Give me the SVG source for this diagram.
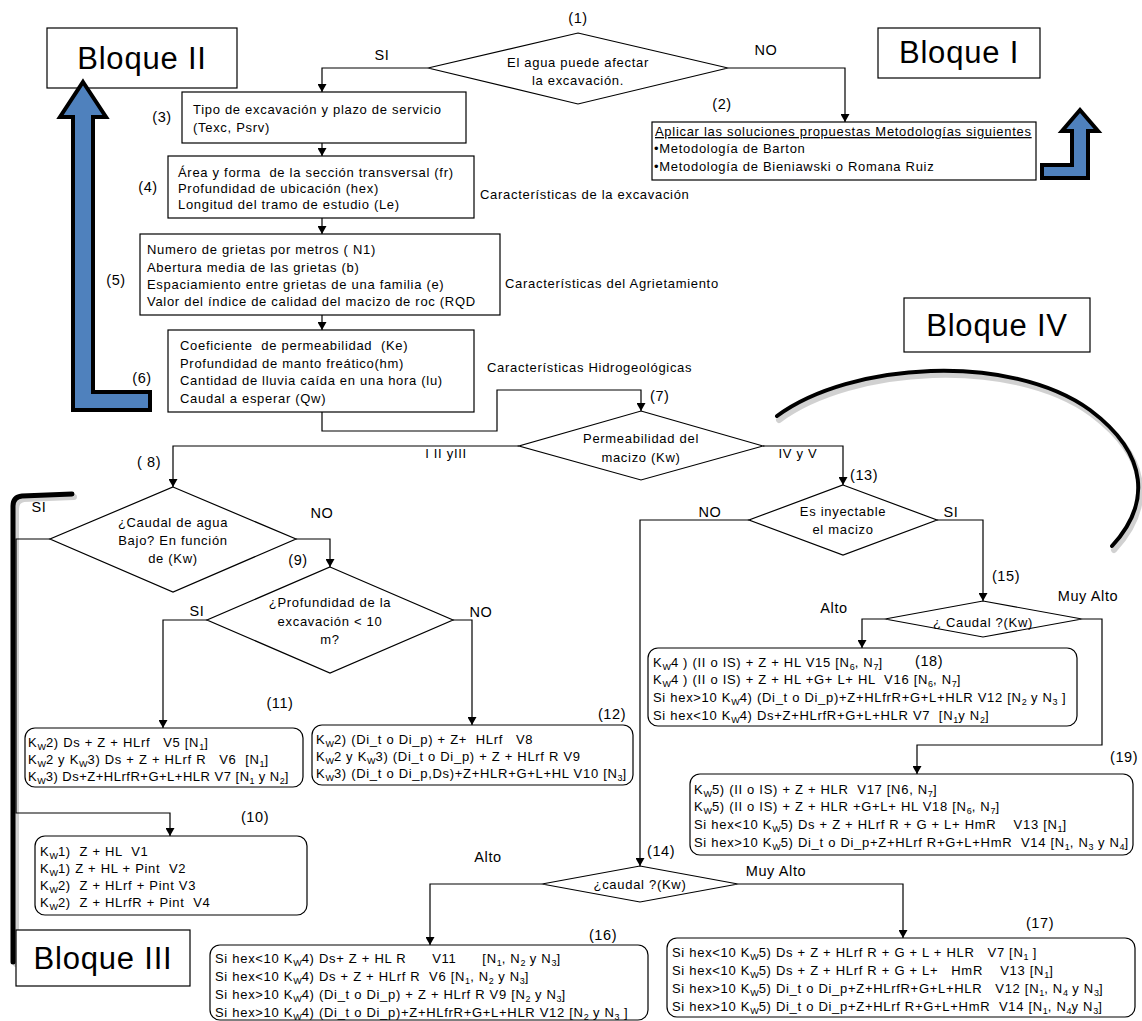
<svg xmlns="http://www.w3.org/2000/svg" width="1142" height="1021" viewBox="0 0 1142 1021">
<defs>
<marker id="ah" markerUnits="userSpaceOnUse" markerWidth="8" markerHeight="9" refX="8" refY="4.5" orient="auto">
<path d="M0,0 L8,4.5 L0,9 z" fill="#000"/>
</marker>
<style>
.t{font-family:"Liberation Sans",Arial,sans-serif;font-size:13px;letter-spacing:0.7px;fill:#000;white-space:pre}
.c{text-anchor:middle}
.lb{font-size:14.5px;letter-spacing:0.6px}
.big{font-size:31px;letter-spacing:0.8px}
.s{font-size:9px;letter-spacing:0}
.u{text-decoration:underline}
.box{fill:#fff;stroke:#000;stroke-width:1.2}
.dm{fill:#fff;stroke:#000;stroke-width:1.2}
.ln{fill:none;stroke:#000;stroke-width:1.2;marker-end:url(#ah)}
.blue{fill:#4f81bd;stroke:#000;stroke-width:4;stroke-linejoin:miter}
.thick{fill:none;stroke:#000;stroke-width:5;stroke-linecap:round}
.shadow{fill:none;stroke:#000;stroke-opacity:0.18;stroke-width:6;stroke-linecap:round}
</style>
</defs>
<rect width="1142" height="1021" fill="#fff"/>

<g id="bloqueII">
<rect class="box" x="47" y="28" width="190" height="60"/>
<text class="t big c" x="142" y="69">Bloque II</text>
</g>
<g id="bloqueI">
<rect class="box" x="878" y="28" width="162" height="50"/>
<text class="t big c" x="959" y="63">Bloque I</text>
</g>
<g id="bloqueIV">
<rect class="box" x="904" y="298" width="186" height="54"/>
<text class="t big c" x="997" y="336">Bloque IV</text>
</g>
<g id="arrowII">
<polygon class="blue" points="83,82 106,117 93,117 93,392 150,392 150,410 73,410 73,117 60,117"/>
</g>
<g id="arrowI">
<polygon class="blue" points="1080,110 1098,131 1088,131 1088,178 1042,178 1042,165 1072,165 1072,131 1062,131"/>
</g>
<g id="bracketIII">
<path class="shadow" d="M74,497 L24,499 Q16,500 16,509 L16,964"/>
<path class="thick" d="M72,494 L22,496 Q13,497 13,506 L13,962"/>
</g>
<g id="arcIV">
<path class="shadow" d="M779,420 C852,366 1012,356 1092,414 C1152,459 1152,509 1114,550"/>
<path class="thick" style="stroke-width:4" d="M777,416 C850,362 1010,352 1090,410 C1150,455 1150,505 1112,546"/>
</g>

<g id="connectors">
<polyline class="ln" points="428,68 322,68 322,92"/>
<polyline class="ln" points="728,68 845,68 845,122"/>
<polyline class="ln" points="322,143 322,156"/>
<polyline class="ln" points="322,218 322,234"/>
<polyline class="ln" points="322,315 322,330"/>
<polyline class="ln" points="322,412 322,431 497,431 497,390 641,390 641,411"/>
<polyline class="ln" points="519,446 173,446 173,487"/>
<polyline class="ln" points="763,446 843,446 843,485"/>
<polyline class="ln" points="296,539 330,539 330,567"/>
<polyline class="ln" points="50,539 16,539 16,813 170,813 170,836"/>
<polyline class="ln" points="207,620 163,620 163,728"/>
<polyline class="ln" points="453,620 472,620 472,725"/>
<polyline class="ln" points="937,520 983,520 983,601"/>
<polyline class="ln" points="749,520 640,520 640,866"/>
<polyline class="ln" points="885,619 862,619 862,648"/>
<polyline class="ln" points="1082,619 1102,619 1102,745 917,745 917,774"/>
<polyline class="ln" points="542,884 430,884 430,945"/>
<polyline class="ln" points="738,884 903,884 903,938"/>
</g>

<g id="edge-labels">
<text class="t lb c" x="382" y="60">SI</text>
<text class="t lb c" x="766" y="55">NO</text>
<text class="t lb c" x="322" y="518">NO</text>
<text class="t lb c" x="39" y="512">SI</text>
<text class="t lb c" x="197" y="616">SI</text>
<text class="t lb c" x="481" y="617">NO</text>
<text class="t c" x="446" y="458">I II yIII</text>
<text class="t c" x="798" y="458">IV y V</text>
<text class="t lb c" x="710" y="517">NO</text>
<text class="t lb c" x="951" y="517">SI</text>
<text class="t lb c" x="834" y="613">Alto</text>
<text class="t lb c" x="1088" y="601">Muy Alto</text>
<text class="t lb c" x="488" y="862">Alto</text>
<text class="t lb c" x="776" y="876">Muy Alto</text>
</g>

<g id="n1">
<text class="t lb c" x="578" y="23">(1)</text>
<polygon class="dm" points="578,33 728,68 578,104 428,68"/>
<text class="t c" x="578" y="67">El agua puede afectar</text>
<text class="t c" x="578" y="85">la excavación.</text>
</g>

<g id="n2">
<text class="t lb c" x="722" y="109">(2)</text>
<rect class="box" x="652" y="122" width="384" height="58"/>
<text class="t u" x="655" y="136">Aplicar las soluciones propuestas Metodologías siguientes</text>
<text class="t" x="654" y="153">•Metodología de Barton</text>
<text class="t" x="654" y="171">•Metodología de Bieniawski o Romana Ruiz</text>
</g>

<g id="n3">
<text class="t lb c" x="162" y="122">(3)</text>
<rect class="box" x="182" y="92" width="284" height="51"/>
<text class="t" x="193" y="114">Tipo de excavación y plazo de servicio</text>
<text class="t" x="193" y="132">(Texc, Psrv)</text>
</g>

<g id="n4">
<text class="t lb c" x="148" y="192">(4)</text>
<rect class="box" x="168" y="156" width="306" height="62"/>
<text class="t" x="178" y="177">Área y forma  de la sección transversal (fr)</text>
<text class="t" x="178" y="193">Profundidad de ubicación (hex)</text>
<text class="t" x="178" y="209">Longitud del tramo de estudio (Le)</text>
<text class="t" x="480" y="199">Características de la excavación</text>
</g>

<g id="n5">
<text class="t lb c" x="116" y="285">(5)</text>
<rect class="box" x="140" y="234" width="360" height="81"/>
<text class="t" x="147" y="254">Numero de grietas por metros ( N1)</text>
<text class="t" x="147" y="272">Abertura media de las grietas (b)</text>
<text class="t" x="147" y="289">Espaciamiento entre grietas de una familia (e)</text>
<text class="t" x="147" y="306">Valor del índice de calidad del macizo de roc (RQD</text>
<text class="t" x="505" y="288">Características del Agrietamiento</text>
</g>

<g id="n6">
<text class="t lb c" x="142" y="383">(6)</text>
<rect class="box" x="168" y="330" width="306" height="82"/>
<text class="t" x="180" y="350">Coeficiente  de permeabilidad  (Ke)</text>
<text class="t" x="180" y="368">Profundidad de manto freático(hm)</text>
<text class="t" x="180" y="385">Cantidad de lluvia caída en una hora (lu)</text>
<text class="t" x="180" y="403">Caudal a esperar (Qw)</text>
<text class="t" x="487" y="372">Características Hidrogeológicas</text>
</g>

<g id="n7">
<text class="t lb" x="650" y="401">(7)</text>
<polygon class="dm" points="641,411 763,446 641,480 519,446"/>
<text class="t c" x="641" y="443">Permeabilidad del</text>
<text class="t c" x="641" y="462">macizo (Kw)</text>
</g>

<g id="n8">
<text class="t lb c" x="149" y="467">( 8)</text>
<polygon class="dm" points="173,487 296,539 173,592 50,539"/>
<text class="t c" x="173" y="527">¿Caudal de agua</text>
<text class="t c" x="173" y="545">Bajo? En función</text>
<text class="t c" x="173" y="563">de (Kw)</text>
</g>

<g id="n9">
<text class="t lb c" x="298" y="565">(9)</text>
<polygon class="dm" points="330,567 453,620 330,673 207,620"/>
<text class="t c" x="330" y="607">¿Profundidad de la</text>
<text class="t c" x="330" y="626">excavación &lt; 10</text>
<text class="t c" x="330" y="644">m?</text>
</g>

<g id="n11">
<text class="t lb c" x="280" y="708">(11)</text>
<rect class="box" x="25" y="728" width="278" height="59" rx="10"/>
<text class="t" x="28" y="747">K<tspan class="s" dy="3">W</tspan><tspan dy="-3">2) Ds + Z + HLrf   V5 [N</tspan><tspan class="s" dy="3">1</tspan><tspan dy="-3">]</tspan></text>
<text class="t" x="28" y="764">K<tspan class="s" dy="3">W</tspan><tspan dy="-3">2 y K</tspan><tspan class="s" dy="3">W</tspan><tspan dy="-3">3) Ds + Z + HLrf R   V6  [N</tspan><tspan class="s" dy="3">1</tspan><tspan dy="-3">]</tspan></text>
<text class="t" x="28" y="781" style="letter-spacing:0.5px">K<tspan class="s" dy="3">W</tspan><tspan dy="-3">3) Ds+Z+HLrfR+G+L+HLR V7 [N</tspan><tspan class="s" dy="3">1</tspan><tspan dy="-3"> y N</tspan><tspan class="s" dy="3">2</tspan><tspan dy="-3">]</tspan></text>
</g>

<g id="n12">
<text class="t lb c" x="612" y="719">(12)</text>
<rect class="box" x="312" y="725" width="321" height="60" rx="10"/>
<text class="t" x="316" y="744">K<tspan class="s" dy="3">W</tspan><tspan dy="-3">2) (Di_t o Di_p) + Z+  HLrf   V8</tspan></text>
<text class="t" x="316" y="761">K<tspan class="s" dy="3">W</tspan><tspan dy="-3">2 y K</tspan><tspan class="s" dy="3">W</tspan><tspan dy="-3">3) (Di_t o Di_p) + Z + HLrf R V9</tspan></text>
<text class="t" x="316" y="778">K<tspan class="s" dy="3">W</tspan><tspan dy="-3">3) (Di_t o Di_p,Ds)+Z+HLR+G+L+HL V10 [N</tspan><tspan class="s" dy="3">3</tspan><tspan dy="-3">]</tspan></text>
</g>

<g id="n10">
<text class="t lb c" x="255" y="822">(10)</text>
<rect class="box" x="35" y="836" width="272" height="79" rx="10"/>
<text class="t" x="40" y="856">K<tspan class="s" dy="3">W</tspan><tspan dy="-3">1)  Z + HL  V1</tspan></text>
<text class="t" x="40" y="873">K<tspan class="s" dy="3">W</tspan><tspan dy="-3">1) Z + HL + Pint  V2</tspan></text>
<text class="t" x="40" y="890">K<tspan class="s" dy="3">W</tspan><tspan dy="-3">2)  Z + HLrf + Pint V3</tspan></text>
<text class="t" x="40" y="907">K<tspan class="s" dy="3">W</tspan><tspan dy="-3">2)  Z + HLrfR + Pint  V4</tspan></text>
</g>

<g id="bloqueIII">
<rect class="box" x="16" y="930" width="174" height="56"/>
<text class="t big c" x="103" y="969">Bloque III</text>
</g>

<g id="n13">
<text class="t lb" x="850" y="480">(13)</text>
<polygon class="dm" points="843,485 937,520 843,555 749,520"/>
<text class="t c" x="843" y="516">Es inyectable</text>
<text class="t c" x="843" y="534">el macizo</text>
</g>

<g id="n15">
<text class="t lb c" x="1006" y="581">(15)</text>
<polygon class="dm" points="983,601 1082,619 983,637 885,619"/>
<text class="t c" x="983" y="627">¿ Caudal ?(Kw)</text>
</g>

<g id="n18">
<rect class="box" x="648" y="648" width="429" height="78" rx="10"/>
<text class="t lb" x="915" y="666">(18)</text>
<text class="t" x="653" y="667">K<tspan class="s" dy="3">W</tspan><tspan dy="-3">4 ) (II o IS) + Z + HL V15 [N</tspan><tspan class="s" dy="3">6</tspan><tspan dy="-3">, N</tspan><tspan class="s" dy="3">7</tspan><tspan dy="-3">]</tspan></text>
<text class="t" x="653" y="684">K<tspan class="s" dy="3">W</tspan><tspan dy="-3">4 ) (II o IS) + Z + HL +G+ L+ HL  V16 [N</tspan><tspan class="s" dy="3">6</tspan><tspan dy="-3">, N</tspan><tspan class="s" dy="3">7</tspan><tspan dy="-3">]</tspan></text>
<text class="t" x="653" y="702">Si hex&gt;10 K<tspan class="s" dy="3">W</tspan><tspan dy="-3">4) (Di_t o Di_p)+Z+HLfrR+G+L+HLR V12 [N</tspan><tspan class="s" dy="3">2</tspan><tspan dy="-3"> y N</tspan><tspan class="s" dy="3">3</tspan><tspan dy="-3"> ]</tspan></text>
<text class="t" x="653" y="720">Si hex&lt;10 K<tspan class="s" dy="3">W</tspan><tspan dy="-3">4) Ds+Z+HLrfR+G+L+HLR V7  [N</tspan><tspan class="s" dy="3">1</tspan><tspan dy="-3">y N</tspan><tspan class="s" dy="3">2</tspan><tspan dy="-3">]</tspan></text>
</g>

<g id="n19">
<text class="t lb" x="1110" y="762">(19)</text>
<rect class="box" x="690" y="774" width="443" height="81" rx="10"/>
<text class="t" x="694" y="794">K<tspan class="s" dy="3">W</tspan><tspan dy="-3">5) (II o IS) + Z + HLR  V17 [N6, N</tspan><tspan class="s" dy="3">7</tspan><tspan dy="-3">]</tspan></text>
<text class="t" x="694" y="811">K<tspan class="s" dy="3">W</tspan><tspan dy="-3">5) (II o IS) + Z + HLR +G+L+ HL V18 [N</tspan><tspan class="s" dy="3">6</tspan><tspan dy="-3">, N</tspan><tspan class="s" dy="3">7</tspan><tspan dy="-3">]</tspan></text>
<text class="t" x="694" y="829">Si hex&lt;10 K<tspan class="s" dy="3">W</tspan><tspan dy="-3">5) Ds + Z + HLrf R + G + L+ HmR    V13 [N</tspan><tspan class="s" dy="3">1</tspan><tspan dy="-3">]</tspan></text>
<text class="t" x="694" y="847">Si hex&gt;10 K<tspan class="s" dy="3">W</tspan><tspan dy="-3">5) Di_t o Di_p+Z+HLrf R+G+L+HmR  V14 [N</tspan><tspan class="s" dy="3">1</tspan><tspan dy="-3">, N</tspan><tspan class="s" dy="3">3</tspan><tspan dy="-3"> y N</tspan><tspan class="s" dy="3">4</tspan><tspan dy="-3">]</tspan></text>
</g>

<g id="n14">
<text class="t lb" x="647" y="856">(14)</text>
<polygon class="dm" points="640,866 738,884 640,902 542,884"/>
<text class="t c" x="640" y="889">¿caudal ?(Kw)</text>
</g>

<g id="n16">
<text class="t lb c" x="603" y="940">(16)</text>
<rect class="box" x="210" y="945" width="438" height="75" rx="10"/>
<text class="t" x="215" y="963">Si hex&lt;10 K<tspan class="s" dy="3">W</tspan><tspan dy="-3">4) Ds+ Z + HL R      V11      [N</tspan><tspan class="s" dy="3">1</tspan><tspan dy="-3">, N</tspan><tspan class="s" dy="3">2</tspan><tspan dy="-3"> y N</tspan><tspan class="s" dy="3">3</tspan><tspan dy="-3">]</tspan></text>
<text class="t" x="215" y="981">Si hex&lt;10 K<tspan class="s" dy="3">W</tspan><tspan dy="-3">4) Ds + Z + HLrf R  V6 [N</tspan><tspan class="s" dy="3">1</tspan><tspan dy="-3">, N</tspan><tspan class="s" dy="3">2</tspan><tspan dy="-3"> y N</tspan><tspan class="s" dy="3">3</tspan><tspan dy="-3">]</tspan></text>
<text class="t" x="215" y="999">Si hex&gt;10 K<tspan class="s" dy="3">W</tspan><tspan dy="-3">4) (Di_t o Di_p) + Z + HLrf R V9 [N</tspan><tspan class="s" dy="3">2</tspan><tspan dy="-3"> y N</tspan><tspan class="s" dy="3">3</tspan><tspan dy="-3">]</tspan></text>
<text class="t" x="215" y="1017">Si hex&gt;10 K<tspan class="s" dy="3">W</tspan><tspan dy="-3">4) (Di_t o Di_p)+Z+HLfrR+G+L+HLR V12 [N</tspan><tspan class="s" dy="3">2</tspan><tspan dy="-3"> y N</tspan><tspan class="s" dy="3">3</tspan><tspan dy="-3"> ]</tspan></text>
</g>

<g id="n17">
<text class="t lb c" x="1040" y="928">(17)</text>
<rect class="box" x="667" y="938" width="468" height="79" rx="10"/>
<text class="t" x="672" y="957">Si hex&lt;10 K<tspan class="s" dy="3">W</tspan><tspan dy="-3">5) Ds + Z + HLrf R + G + L + HLR   V7 [N</tspan><tspan class="s" dy="3">1</tspan><tspan dy="-3"> ]</tspan></text>
<text class="t" x="672" y="975">Si hex&lt;10 K<tspan class="s" dy="3">W</tspan><tspan dy="-3">5) Ds + Z + HLrf R + G + L+   HmR    V13 [N</tspan><tspan class="s" dy="3">1</tspan><tspan dy="-3">]</tspan></text>
<text class="t" x="672" y="993">Si hex&gt;10 K<tspan class="s" dy="3">W</tspan><tspan dy="-3">5) Di_t o Di_p+Z+HLrfR+G+L+HLR   V12 [N</tspan><tspan class="s" dy="3">1</tspan><tspan dy="-3">, N</tspan><tspan class="s" dy="3">4</tspan><tspan dy="-3"> y N</tspan><tspan class="s" dy="3">3</tspan><tspan dy="-3">]</tspan></text>
<text class="t" x="672" y="1011">Si hex&gt;10 K<tspan class="s" dy="3">W</tspan><tspan dy="-3">5) Di_t o Di_p+Z+HLrf R+G+L+HmR  V14 [N</tspan><tspan class="s" dy="3">1</tspan><tspan dy="-3">, N</tspan><tspan class="s" dy="3">4</tspan><tspan dy="-3">y N</tspan><tspan class="s" dy="3">3</tspan><tspan dy="-3">]</tspan></text>
</g>
</svg>
